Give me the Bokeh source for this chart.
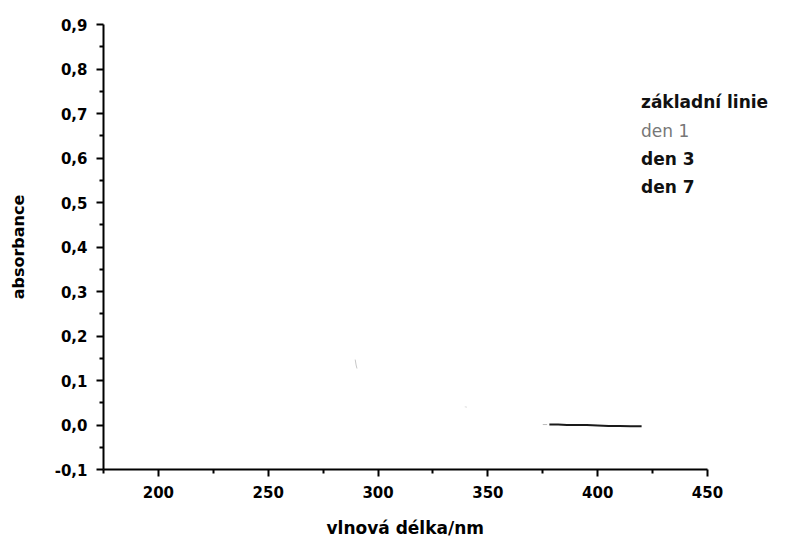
from bokeh.plotting import figure
from bokeh.models import FixedTicker, CustomJSTickFormatter, Legend, LegendItem, Range1d, Title
from bokeh.embed import file_html
from bokeh.resources import INLINE

# data
base_x = [378, 382, 386, 390, 395, 400, 405, 410, 415, 420]
base_y = [0.001, 0.001, 0.0, 0.0, 0.0, -0.001, -0.002, -0.002, -0.003, -0.003]
den1_x = [289.6, 290.0, 290.4]
den1_y = [0.147, 0.135, 0.127]
den3_x = [339.5, 340.5]
den3_y = [0.041, 0.040]
den7_x = [375.0, 377.0]
den7_y = [0.001, 0.001]

x_ticks = [200, 250, 300, 350, 400, 450]
x_minor = [175, 225, 275, 325, 375, 425]
y_ticks = [-0.1, 0.0, 0.1, 0.2, 0.3, 0.4, 0.5, 0.6, 0.7, 0.8, 0.9]
y_minor = [-0.05, 0.05, 0.15, 0.25, 0.35, 0.45, 0.55, 0.65, 0.75, 0.85]
legend_labels = ["základní linie", "den 1", "den 3", "den 7"]
legend_colors = ["#111111", "#777777", "#111111", "#111111"]
legend_weights = ["bold", "normal", "bold", "bold"]
x_label = "vlnová délka/nm"
y_label = "absorbance"

FONT = "DejaVu Sans"

x_start, x_end = 175, 450
axis_px = 604                 # pixel length of the drawn x axis
frame_w = 680                 # wider frame so the legend text is not clipped
x_view_end = x_start + frame_w * (x_end - x_start) / axis_px

p = figure(output_backend="svg", toolbar_location=None,
           frame_width=frame_w, frame_height=445,
           min_border_left=103, min_border_top=24, min_border_right=4, min_border_bottom=10,
           x_range=Range1d(x_start, x_view_end), y_range=Range1d(-0.1, 0.9))
p.outline_line_color = None
p.xgrid.visible = False
p.ygrid.visible = False
p.background_fill_color = "white"
p.border_fill_color = "white"

r_base = p.line(base_x, base_y, line_color="#1a1a1a", line_width=2)
r_d1 = p.line(den1_x, den1_y, line_color="#c8c8c8", line_width=1)
r_d3 = p.line(den3_x, den3_y, line_color="#dddddd", line_width=1)
r_d7 = p.line(den7_x, den7_y, line_color="#bbbbbb", line_width=1)

for ax, ticks, minor in ((p.xaxis[0], x_ticks, x_minor), (p.yaxis[0], y_ticks, y_minor)):
    ax.ticker = FixedTicker(ticks=ticks, minor_ticks=minor)
    ax.axis_line_width = 2
    ax.major_tick_line_width = 2
    ax.minor_tick_line_width = 2
    ax.major_tick_in = 0
    ax.major_tick_out = 7
    ax.minor_tick_in = 0
    ax.minor_tick_out = 4
    ax.axis_line_color = "black"
    ax.major_tick_line_color = "black"
    ax.minor_tick_line_color = "black"
    ax.major_label_text_font = FONT
    ax.major_label_text_font_style = "bold"
    ax.major_label_text_font_size = "15px"
    ax.major_label_text_color = "black"
    ax.axis_label_text_font = FONT
    ax.axis_label_text_font_style = "bold"
    ax.axis_label_text_color = "black"

p.xaxis[0].bounds = (x_start, x_end)
p.yaxis[0].axis_label_text_font_size = "16px"
p.xaxis[0].formatter = CustomJSTickFormatter(code="return tick.toFixed(0);")
p.yaxis[0].formatter = CustomJSTickFormatter(code="return tick.toFixed(1).replace('.', ',');")
p.yaxis[0].axis_label = y_label
p.xaxis[0].major_label_standoff = 9
p.yaxis[0].major_label_standoff = 9
p.yaxis[0].axis_label_standoff = 24
# tiny blank axis label only to add a little space before the x title below
p.xaxis[0].axis_label = " "
p.xaxis[0].axis_label_text_font_size = "2px"
p.xaxis[0].axis_label_standoff = 5

# x-axis title centred under the drawn axis (not under the widened frame)
xt = Title(text=x_label, align="left", offset=223, standoff=11,
           text_font=FONT, text_font_style="bold", text_font_size="17px", text_color="black")
p.add_layout(xt, "below")

renderers = [r_base, r_d1, r_d3, r_d7]
legend_y = [357, 328, 300, 272]
for lab, col, wt, ly, rr in zip(legend_labels, legend_colors, legend_weights, legend_y, renderers):
    lg = Legend(items=[LegendItem(label=lab, renderers=[rr])], location=(538, ly),
                glyph_width=0, glyph_height=20, label_height=20, label_standoff=0,
                padding=0, margin=0, spacing=0,
                border_line_color=None, background_fill_alpha=0,
                label_text_font=FONT, label_text_font_style=wt, label_text_color=col,
                label_text_font_size="17px", label_text_baseline="middle")
    p.add_layout(lg)

open("out.html", "w").write(file_html(p, INLINE))
